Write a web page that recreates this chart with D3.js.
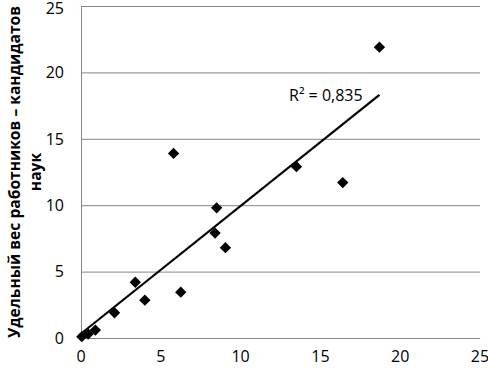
<!DOCTYPE html>
<html>
<head>
<script src="https://cdn.jsdelivr.net/npm/d3@7"></script>
<style>
  body{margin:0;background:#fff;}
  text{font-family:"Open Sans",sans-serif;}
</style>
</head>
<body>
<div id="chart"></div>
<script>
// points
var xVals = [0.05, 0.45, 0.9, 2.1, 3.4, 4.0, 6.25, 5.8, 8.5, 8.4, 9.05, 13.5, 16.4, 18.7]
var yVals = [0.1, 0.3, 0.6, 1.9, 4.2, 2.85, 3.45, 13.9, 9.8, 7.9, 6.8, 12.9, 11.7, 21.9]
var xTicks = [0, 5, 10, 15, 20, 25]
var yTicks = [0, 5, 10, 15, 20, 25]
var rLabel = "R² = 0,835"
var yTitle = ["Удельный вес работников – кандидатов", "наук"]

var W = 488, H = 368
var padL = 81, padR = 480, padT = 6, padB = 338

var svg = d3.select("#chart").append("svg").attr("width", W).attr("height", H)

var x = d3.scaleLinear().domain([0, 25]).range([padL, padR])
var y = d3.scaleLinear().domain([0, 25]).range([padB, padT])

// horizontal grid
svg.append("g").selectAll("line").data(yTicks).enter().append("line")
  .attr("x1", padL).attr("x2", padR)
  .attr("y1", function(d){return y(d)+0.5}).attr("y2", function(d){return y(d)+0.5})
  .attr("stroke", "#868686").attr("stroke-width", 1)

// y axis line
svg.append("line").attr("x1", padL+0.5).attr("x2", padL+0.5)
  .attr("y1", padT).attr("y2", padB+0.5)
  .attr("stroke", "#868686")

// tick labels
svg.append("g").selectAll("text").data(yTicks).enter().append("text")
  .attr("x", 64).attr("y", function(d){return Math.max(y(d), 8)})
  .attr("dy", "0.36em").attr("text-anchor", "end")
  .attr("font-size", 16).attr("fill", "#000")
  .text(function(d){return d})

svg.append("g").selectAll("text").data(xTicks).enter().append("text")
  .attr("x", function(d){return x(d)}).attr("y", 356)
  .attr("dy", "0.36em").attr("text-anchor", "middle")
  .attr("font-size", 16).attr("fill", "#000")
  .text(function(d){return d})

// y title
var tg = svg.append("g").attr("transform", "translate(14,172) rotate(-90)")
tg.selectAll("text").data(yTitle).enter().append("text")
  .attr("x", 0).attr("y", function(d,i){return i*21})
  .attr("dy", "0.36em").attr("text-anchor", "middle")
  .attr("font-size", 15.6).attr("font-weight", "bold").attr("fill", "#000")
  .text(function(d){return d})

// linear trendline from the points
var n = xVals.length
var mx = d3.mean(xVals), my = d3.mean(yVals)
var sxy = 0, sxx = 0
for (var i = 0; i < n; i++) {
  sxy += (xVals[i]-mx)*(yVals[i]-my)
  sxx += (xVals[i]-mx)*(xVals[i]-mx)
}
var slope = sxy/sxx, icpt = my - slope*mx
var x0 = d3.min(xVals), x1 = d3.max(xVals)

svg.append("line")
  .attr("x1", x(x0)).attr("y1", y(icpt+slope*x0))
  .attr("x2", x(x1)).attr("y2", y(icpt+slope*x1))
  .attr("stroke", "#000").attr("stroke-width", 2.2)

// diamonds
var diamond = d3.symbol().type(d3.symbolSquare).size(64)
svg.append("g").selectAll("path").data(xVals).enter().append("path")
  .attr("d", diamond)
  .attr("transform", function(d,i){return "translate("+x(d)+","+y(yVals[i])+") rotate(45)"})
  .attr("fill", "#000")

svg.append("text").attr("x", 289).attr("y", 101)
  .attr("font-size", 16).attr("fill", "#000")
  .text(rLabel)
</script>
</body>
</html>
